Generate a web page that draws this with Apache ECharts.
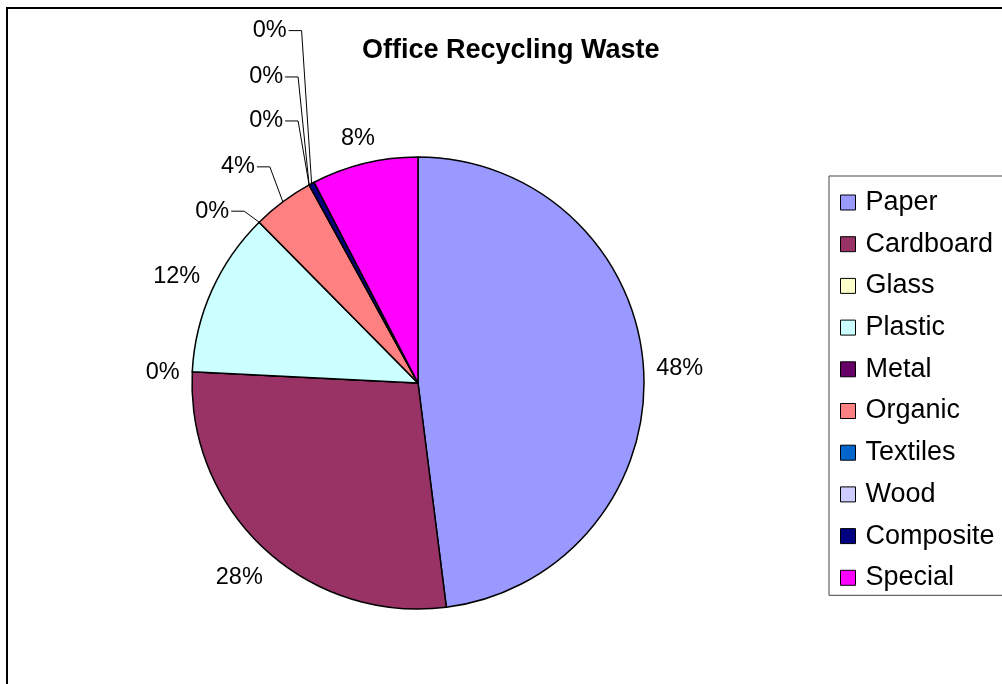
<!DOCTYPE html>
<html>
<head>
<meta charset="utf-8">
<title>Office Recycling Waste</title>
<script src="https://cdn.jsdelivr.net/npm/echarts@6/dist/echarts.min.js"></script>
<style>
  html, body { margin: 0; padding: 0; background: #fff; }
  #chart { width: 1002px; height: 684px; }
</style>
</head>
<body>
<div id="chart"></div>
<script>
// Waste categories and their share of the office recycling stream (%)
const categories = ['Paper', 'Cardboard', 'Glass', 'Plastic', 'Metal', 'Organic', 'Textiles', 'Wood', 'Composite', 'Special'];
const shares = [48.0, 27.8, 0, 11.8, 0, 4.4, 0, 0, 0.4, 7.6];
const sliceColors = ['#9999FF', '#993366', '#FFFFCC', '#CCFFFF', '#660066', '#FF8080', '#0066CC', '#CCCCFF', '#000080', '#FF00FF'];

// Pie geometry
const CX = 418, CY = 383, R = 226;
const FONT = '"Liberation Sans", Arial, sans-serif';

// Labels that sit off the pie with an elbow leader line: offset of the
// label centre from the slice's edge point.
const callouts = {
  Metal:     [-47, -11],
  Organic:   [-45, -35],
  Textiles:  [-43, -64],
  Wood:      [-43, -108],
  Composite: [-42, -153]
};

const total = shares.reduce((a, b) => a + b, 0);
const midAngles = [];
let acc = 0;
shares.forEach(v => {
  const start = acc / total * 360;
  acc += v;
  const end = acc / total * 360;
  midAngles.push((start + end) / 2);
});

function polar(deg, r) {
  const a = deg * Math.PI / 180;
  return [CX + r * Math.sin(a), CY - r * Math.cos(a)];
}

const seriesData = categories.map((name, i) => ({
  name: name,
  value: shares[i],
  itemStyle: { color: sliceColors[i] },
  labelLine: { show: !!callouts[name] }
}));

const chart = echarts.init(document.getElementById('chart'), null, { renderer: 'canvas' });

chart.setOption({
  animation: false,
  backgroundColor: '#fff',
  title: {
    text: 'Office Recycling Waste',
    left: 362,
    top: 37,
    padding: 0,
    textStyle: { fontFamily: FONT, fontSize: 27, fontWeight: 'bold', color: '#000', lineHeight: 27 }
  },
  legend: {
    orient: 'vertical',
    left: 829,
    top: 176,
    padding: [13, 12, 4, 11],
    itemWidth: 15,
    itemHeight: 15,
    itemGap: 14.7,
    icon: 'rect',
    backgroundColor: '#fff',
    borderColor: '#444',
    borderWidth: 1,
    borderRadius: 0,
    itemStyle: { borderColor: '#000', borderWidth: 1 },
    textStyle: { fontFamily: FONT, fontSize: 27, color: '#000', lineHeight: 27, padding: [0, 0, 0, 5] },
    data: categories
  },
  graphic: [{
    type: 'rect',
    z: -10,
    silent: true,
    shape: { x: 7, y: 8, width: 1100, height: 1000 },
    style: { fill: 'none', stroke: '#000', lineWidth: 2 }
  }],
  series: [{
    type: 'pie',
    center: [CX, CY],
    radius: R,
    startAngle: 90,
    clockwise: true,
    avoidLabelOverlap: false,
    emphasis: { disabled: true },
    itemStyle: { borderColor: '#000', borderWidth: 1.5 },
    label: {
      show: true,
      position: 'outside',
      fontFamily: FONT,
      fontSize: 23.5,
      color: '#000',
      formatter: p => Math.round(p.value / total * 100) + '%'
    },
    labelLine: {
      length: 10,
      length2: 10,
      lineStyle: { color: '#000', width: 1 }
    },
    labelLayout: function (params) {
      const i = params.dataIndex;
      const name = categories[i];
      const w = params.labelRect.width, h = params.labelRect.height;
      const mid = midAngles[i];
      if (callouts[name]) {
        const edge = polar(mid, R);
        const off = callouts[name];
        const c = [edge[0] + off[0], edge[1] + off[1]];
        const right = c[0] + w / 2 + 2;
        return {
          x: c[0], y: c[1], align: 'center', verticalAlign: 'middle',
          labelLinePoints: [edge, [right + 13, c[1]], [right, c[1]]]
        };
      }
      const a = mid * Math.PI / 180;
      const ux = Math.abs(Math.sin(a)), uy = Math.abs(Math.cos(a));
      const d = R + 12 + (w / 2) * ux + (h / 2) * uy;
      const c = polar(mid, d);
      return { x: c[0], y: c[1] + 2, align: 'center', verticalAlign: 'middle' };
    },
    data: seriesData
  }]
});
</script>
</body>
</html>
